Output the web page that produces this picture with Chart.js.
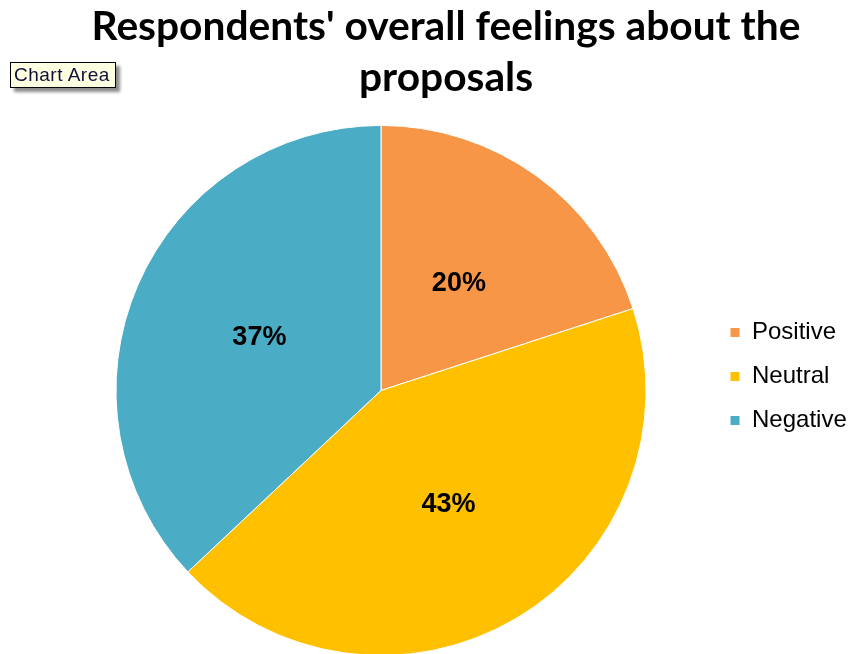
<!DOCTYPE html>
<html>
<head>
<meta charset="utf-8">
<title>Respondents' overall feelings about the proposals</title>
<script src="https://cdn.jsdelivr.net/npm/chart.js@4.4.1/dist/chart.umd.min.js"></script>
<style>
  html, body { margin: 0; padding: 0; background: #fff; overflow: hidden; }
  #chart-wrap { position: relative; width: 856px; height: 656px; }
  /* little hover box as shown over the chart */
  .area-tip {
    position: absolute;
    left: 10px;
    top: 62px;
    padding: 1px 5px 1px 3px;
    background: #ffffe1;
    border: 1px solid #000;
    box-shadow: 4px 4px 3px rgba(0, 0, 0, 0.45);
    font: 19px "Liberation Sans", Arial, sans-serif;
    letter-spacing: 0.5px;
    color: #10103a;
    white-space: nowrap;
  }
</style>
</head>
<body>
<div id="chart-wrap">
  <canvas id="feelings-chart"></canvas>
  <div class="area-tip">Chart Area</div>
</div>
<script>
const categories = ['Positive', 'Neutral', 'Negative'];
const shares = [20, 43, 37];
const sliceColors = ['#f79646', '#ffc000', '#4bacc6'];
const titleLines = ["Respondents' overall feelings about the", 'proposals'];

// percentage written in the middle of each slice
const sliceLabels = {
  id: 'sliceLabels',
  afterDatasetsDraw(chart) {
    const ctx = chart.ctx;
    const meta = chart.getDatasetMeta(0);
    ctx.save();
    ctx.font = 'bold 27px "Liberation Sans", Arial, sans-serif';
    ctx.fillStyle = '#000';
    ctx.textAlign = 'center';
    ctx.textBaseline = 'middle';
    meta.data.forEach((arc, i) => {
      const pos = arc.tooltipPosition();
      ctx.fillText(shares[i] + '%', pos.x, pos.y);
    });
    ctx.restore();
  }
};

// lift the legend block a bit above the pie's centre line and
// let its box run to the canvas edge so long labels aren't clipped
const legendNudge = {
  id: 'legendNudge',
  afterLayout(chart) {
    const lg = chart.legend;
    lg.top -= 14;
    lg.bottom -= 14;
    lg.right = chart.width;
    lg.width = lg.right - lg.left;
  }
};

const ctx = document.getElementById('feelings-chart').getContext('2d');

new Chart(ctx, {
  type: 'pie',
  data: {
    labels: categories,
    datasets: [{
      data: shares,
      backgroundColor: sliceColors,
      borderColor: '#fff',
      borderWidth: 1,
      hoverOffset: 0
    }]
  },
  options: {
    responsive: true,
    maintainAspectRatio: false,
    animation: false,
    events: [],
    layout: {
      padding: { left: 52, right: 16, top: 0, bottom: 0 }
    },
    plugins: {
      title: {
        display: true,
        text: titleLines,
        color: '#000',
        font: { family: 'Lato, sans-serif', size: 40.7, weight: 'bold', lineHeight: 1.24 },
        padding: { top: 2, bottom: 22 }
      },
      legend: {
        position: 'right',
        fullSize: false,
        maxWidth: 130,
        labels: {
          color: '#000',
          boxWidth: 10,
          boxHeight: 10,
          padding: 20,
          font: { family: '"Liberation Sans", Arial, sans-serif', size: 24 }
        }
      },
      tooltip: { enabled: false }
    }
  },
  plugins: [sliceLabels, legendNudge]
});
</script>
</body>
</html>
